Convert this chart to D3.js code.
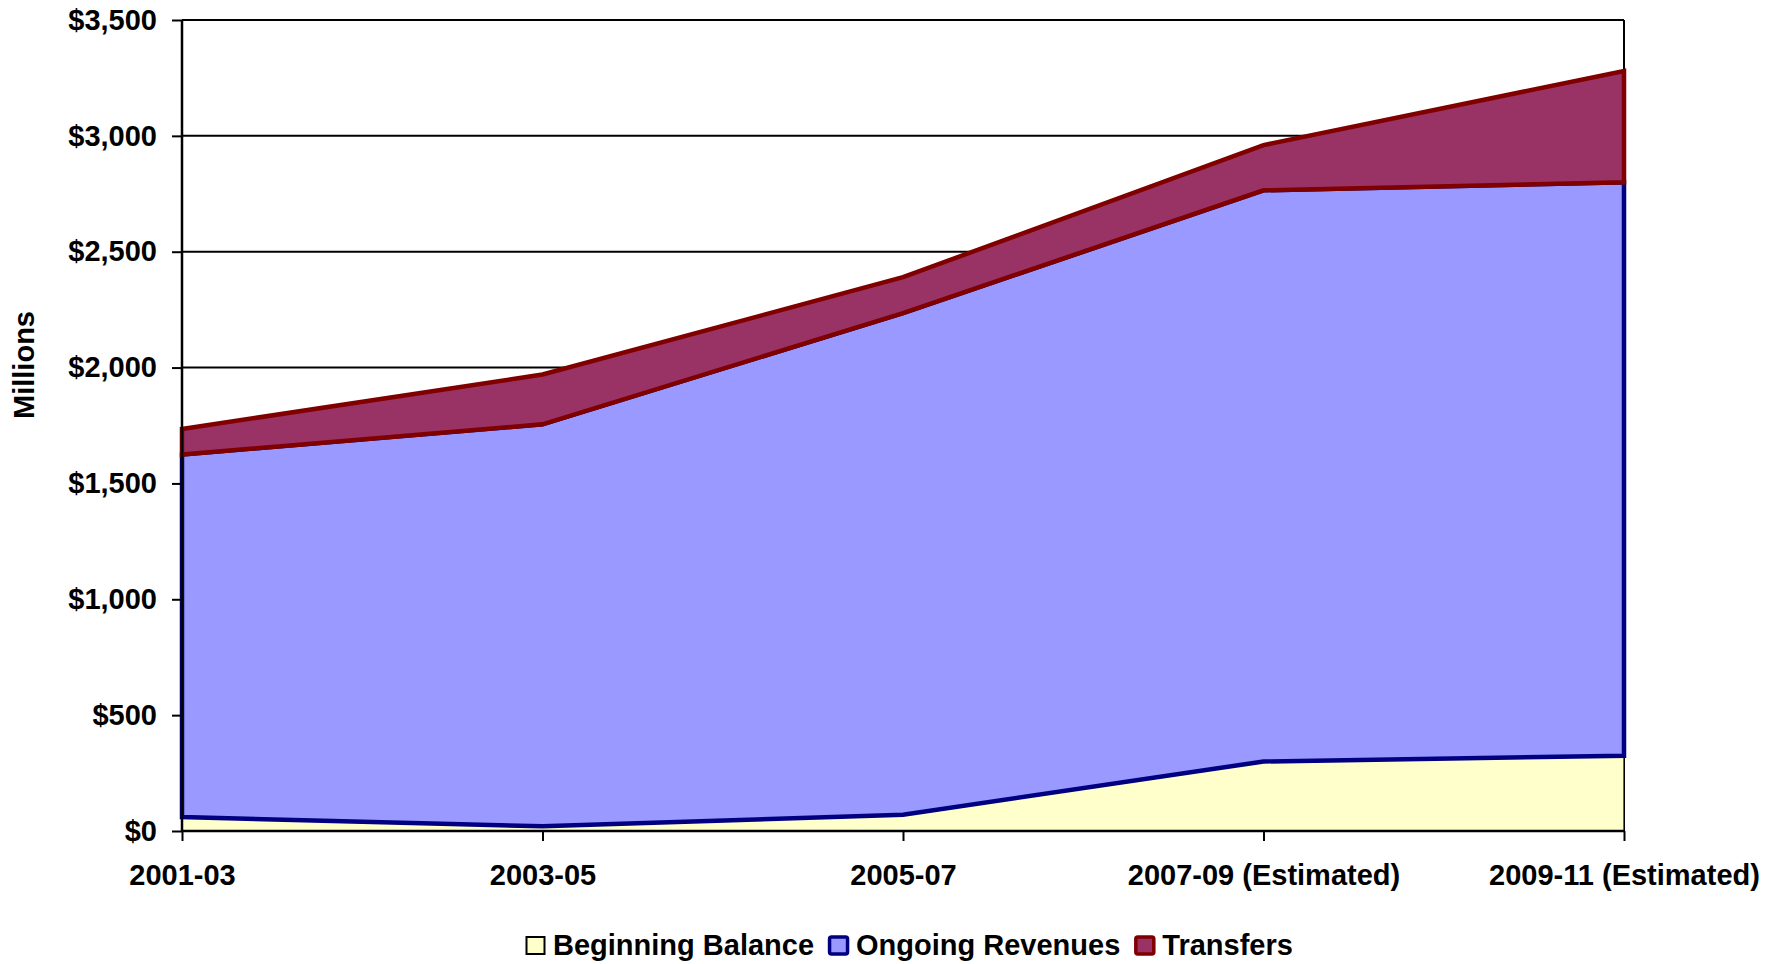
<!DOCTYPE html>
<html>
<head>
<meta charset="utf-8">
<script src="https://cdn.jsdelivr.net/npm/d3@7"></script>
<style>
  body { margin: 0; background: #fff; }
  text { font-family: "Liberation Sans", Arial, sans-serif; font-weight: bold; fill: #000; }
</style>
</head>
<body>
<div id="chart"></div>
<script>
(function () {

// data (millions of dollars)
var categories = ['2001-03', '2003-05', '2005-07', '2007-09 (Estimated)', '2009-11 (Estimated)'];
var beginningBalance = [60, 20, 70, 300, 325];
var ongoingRevenues = [1565, 1735, 2165, 2465, 2475];
var transfers = [110, 215, 155, 195, 480];
var seriesNames = ['Beginning Balance', 'Ongoing Revenues', 'Transfers'];
var yTicks = [0, 500, 1000, 1500, 2000, 2500, 3000, 3500];

var fills = ['#FFFFCC', '#9999FF', '#993366'];
var strokes = ['#000000', '#000080', '#800000'];
var strokeWidths = [1.2, 4.5, 4.5];

var fontSize = 29;

var width = 1779,
    height = 964;

var margin = {top: 20, right: 155, bottom: 133, left: 182};

var svg = d3.select('#chart')
  .append('svg')
  .attr('width', width)
  .attr('height', height);

// rows for the stack
var rows = categories.map(function (c, i) {
  return {cat: c, 'Beginning Balance': beginningBalance[i], 'Ongoing Revenues': ongoingRevenues[i], 'Transfers': transfers[i]};
});

var stacked = d3.stack().keys(seriesNames)(rows);

var xScale = d3.scalePoint()
  .domain(categories)
  .range([margin.left, width - margin.right]);

var yScale = d3.scaleLinear()
  .domain([0, 3500])
  .range([height - margin.bottom, margin.top]);

// gridlines
svg.append('g')
  .selectAll('line')
  .data(yTicks)
  .enter()
  .append('line')
  .attr('x1', margin.left)
  .attr('x2', width - margin.right)
  .attr('y1', function (d) { return yScale(d); })
  .attr('y2', function (d) { return yScale(d); })
  .attr('stroke', '#000')
  .attr('stroke-width', 2);

// right border of the plot
svg.append('line')
  .attr('x1', width - margin.right)
  .attr('x2', width - margin.right)
  .attr('y1', yScale(3500))
  .attr('y2', yScale(0))
  .attr('stroke', '#000')
  .attr('stroke-width', 2);

var areaGen = d3.area()
  .x(function (d) { return xScale(d.data.cat); })
  .y0(function (d) { return yScale(d[0]); })
  .y1(function (d) { return yScale(d[1]); });

// stacked areas, each closed with its own border
svg.append('g')
  .selectAll('path')
  .data(stacked)
  .enter()
  .append('path')
  .attr('d', function (d) { return areaGen(d); })
  .attr('fill', function (d, i) { return fills[i]; })
  .attr('stroke', function (d, i) { return strokes[i]; })
  .attr('stroke-width', function (d, i) { return strokeWidths[i]; })
  .attr('stroke-linejoin', 'miter');

// y axis
var yAxis = svg.append('g')
  .attr('transform', 'translate(' + margin.left + ',0)')
  .call(d3.axisLeft(yScale)
    .tickValues(yTicks)
    .tickSize(10)
    .tickPadding(15)
    .tickFormat(function (d) { return '$' + d3.format(',')(d); }));

// x axis
var xAxis = svg.append('g')
  .attr('transform', 'translate(0,' + yScale(0) + ')')
  .call(d3.axisBottom(xScale)
    .tickSize(10)
    .tickPadding(23));

[yAxis, xAxis].forEach(function (ax) {
  ax.select('.domain').attr('stroke', '#000').attr('stroke-width', 2.5);
  ax.selectAll('.tick line').attr('stroke', '#000').attr('stroke-width', 2);
  ax.selectAll('.tick text')
    .attr('font-family', '"Liberation Sans", Arial, sans-serif')
    .attr('font-weight', 'bold')
    .attr('font-size', fontSize)
    .attr('fill', '#000');
});
xAxis.selectAll('.tick text').attr('dy', '0.71em');
yAxis.select('.domain').attr('d', 'M0,' + yScale(3500) + 'V' + yScale(0));
xAxis.select('.domain').attr('d', 'M' + margin.left + ',0H' + (width - margin.right));

// y title
svg.append('text')
  .attr('transform', 'translate(34,365) rotate(-90)')
  .attr('text-anchor', 'middle')
  .attr('font-size', fontSize)
  .text('Millions');

// legend
var legend = svg.append('g')
  .attr('transform', 'translate(0,955)');

var lx = 525;
seriesNames.forEach(function (name, i) {
  legend.append('rect')
    .attr('x', lx + 1.5)
    .attr('y', -18)
    .attr('width', 18)
    .attr('height', 17)
    .attr('rx', i === 0 ? 0 : 2)
    .attr('fill', fills[i])
    .attr('stroke', strokes[i])
    .attr('stroke-width', i === 0 ? 2 : 3.5);
  var t = legend.append('text')
    .attr('x', lx + 28)
    .attr('y', 0)
    .attr('font-size', fontSize)
    .text(name);
  lx = lx + 28 + t.node().getComputedTextLength() + 14;
});

})();
</script>
</body>
</html>
